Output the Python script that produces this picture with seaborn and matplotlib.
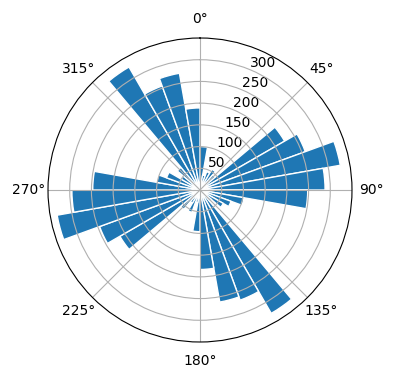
import numpy as np
import matplotlib
matplotlib.use("Agg")
import matplotlib.pyplot as plt
import seaborn as sns

# direction bins (degrees, clockwise from north), 10 deg wide
bin_start = list(range(0, 360, 10))
counts = [100, 35, 45, 55, 45, 225, 258, 328, 288,
          248, 103, 76, 62, 35, 328, 270, 262, 183,
          96, 30, 55, 35, 58, 213, 246, 334, 295,
          247, 101, 82, 50, 68, 327, 255, 273, 189]
rticks = [50, 100, 150, 200, 250, 300]

color = sns.color_palette("tab10")[0]

fig = plt.figure(figsize=(3.96, 3.8), dpi=100)
ax = fig.add_axes([0.1212, 0.1, 0.7677, 0.8], projection="polar")
ax.set_theta_zero_location("N")
ax.set_theta_direction(-1)

theta = np.deg2rad(bin_start)
ax.bar(theta, counts, width=np.deg2rad(10), align="edge",
       color=color, edgecolor="white", linewidth=1)

ax.set_ylim(0, 350)
ax.set_rticks(rticks)
ax.set_thetagrids(range(0, 360, 45))

fig.savefig("out.png", dpi=100)
